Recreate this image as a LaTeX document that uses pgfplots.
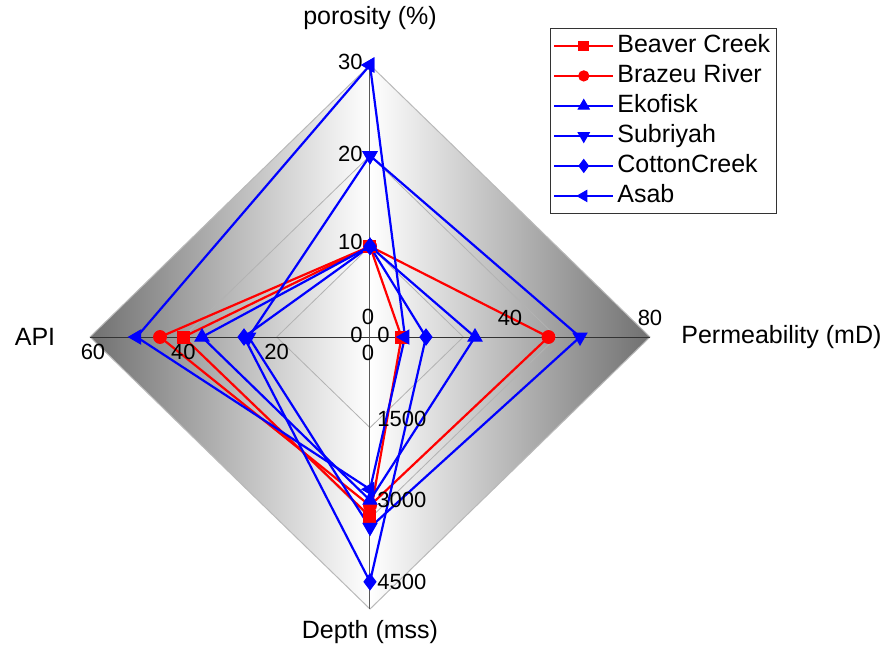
\documentclass[border=0pt]{standalone}
\usepackage{fontspec}
\setmainfont{Liberation Sans}
\usepackage{pgfplots}
\usepackage{pgfplotstable}
\pgfplotsset{compat=1.18}
\definecolor{sred}{RGB}{255,0,0}
\definecolor{sblue}{RGB}{0,0,255}

% columns: direction (dx,dy), value, full-scale of that spoke
% spokes: porosity (%) up, permeability (mD) right, depth (mss) down, API left
\pgfplotstableread{
dx dy val max
0 1 10 30
1 0 9 80
0 -1 3300 5000
-1 0 40 60
0 1 10 30
}\beaver
\pgfplotstableread{
dx dy val max
0 1 10 30
1 0 51 80
0 -1 3100 5000
-1 0 45 60
0 1 10 30
}\brazeu
\pgfplotstableread{
dx dy val max
0 1 10 30
1 0 30 80
0 -1 3000 5000
-1 0 36 60
0 1 10 30
}\ekofisk
\pgfplotstableread{
dx dy val max
0 1 20 30
1 0 60 80
0 -1 3500 5000
-1 0 26 60
0 1 20 30
}\subriyah
\pgfplotstableread{
dx dy val max
0 1 10 30
1 0 16 80
0 -1 4500 5000
-1 0 27 60
0 1 10 30
}\cotton
\pgfplotstableread{
dx dy val max
0 1 30 30
1 0 10 80
0 -1 2800 5000
-1 0 50 60
0 1 30 30
}\asab

\newcommand{\tickfont}{\fontsize{11}{13}\selectfont}
\newcommand{\titlefont}{\fontsize{12.5}{15}\selectfont}

\begin{document}
\begin{tikzpicture}
\begin{axis}[
  at={(0,0)}, anchor=origin,
  scale only axis, width=280pt, height=272pt,
  xmin=-1, xmax=1, ymin=-1, ymax=1,
  hide axis, clip=false,
  legend style={at={(0.821,1.068)}, anchor=north west, draw=black!80,
    fill=white, font=\titlefont, inner sep=1.5pt, row sep=0.5pt,
    nodes={text height=9pt, text depth=2.5pt, inner sep=1.5pt}},
  legend cell align=left,
  legend image code/.code={\draw[mark repeat=2, mark phase=2, /tikz/every mark/.append style={scale=0.8}] plot coordinates {(0pt,0pt) (14.75pt,0pt) (29.5pt,0pt)};},
  every axis plot/.append style={line width=1.1pt},
]
% background diamond with horizontal grey gradient
\addplot[forget plot, draw=gray!55, line width=0.5pt, left color=black!56, right color=black!56, middle color=white]
  coordinates {(-1,0) (0,1) (1,0) (0,-1)} -- cycle;
% grid diamonds
\addplot[forget plot, draw=gray!60, line width=0.4pt]
  coordinates {(-0.3333,0) (0,0.3333) (0.3333,0) (0,-0.3333) (-0.3333,0)};
\addplot[forget plot, draw=gray!60, line width=0.4pt]
  coordinates {(-0.6667,0) (0,0.6667) (0.6667,0) (0,-0.6667) (-0.6667,0)};
% spokes
\addplot[forget plot, draw=black!80, line width=0.5pt] coordinates {(-1,0) (1,0)};
\addplot[forget plot, draw=black!65, line width=0.5pt] coordinates {(0,-1) (0,1)};

% series
\addplot[sred, mark=square*, mark size=3pt, mark options={solid, line width=0.5pt}]
  table[x expr=\thisrow{dx}*\thisrow{val}/\thisrow{max}, y expr=\thisrow{dy}*\thisrow{val}/\thisrow{max}] {\beaver};
\addlegendentry{Beaver Creek}
\addplot[sred, mark=*, mark size=3.2pt, mark options={solid, line width=0.5pt}]
  table[x expr=\thisrow{dx}*\thisrow{val}/\thisrow{max}, y expr=\thisrow{dy}*\thisrow{val}/\thisrow{max}] {\brazeu};
\addlegendentry{Brazeu River}
\addplot[sblue, mark=triangle*, mark size=4pt, mark options={solid, line width=0.5pt}]
  table[x expr=\thisrow{dx}*\thisrow{val}/\thisrow{max}, y expr=\thisrow{dy}*\thisrow{val}/\thisrow{max}] {\ekofisk};
\addlegendentry{Ekofisk}
\addplot[sblue, mark=triangle*, mark size=4pt, mark options={solid, rotate=180, line width=0.5pt}]
  table[x expr=\thisrow{dx}*\thisrow{val}/\thisrow{max}, y expr=\thisrow{dy}*\thisrow{val}/\thisrow{max}] {\subriyah};
\addlegendentry{Subriyah}
\addplot[sblue, mark=diamond*, mark size=4pt, mark options={solid, line width=0.5pt}]
  table[x expr=\thisrow{dx}*\thisrow{val}/\thisrow{max}, y expr=\thisrow{dy}*\thisrow{val}/\thisrow{max}] {\cotton};
\addlegendentry{CottonCreek}
\addplot[sblue, mark=triangle*, mark size=4pt, mark options={solid, rotate=90, line width=0.5pt}]
  table[x expr=\thisrow{dx}*\thisrow{val}/\thisrow{max}, y expr=\thisrow{dy}*\thisrow{val}/\thisrow{max}] {\asab};
\addlegendentry{Asab}

% porosity tick labels (left of spoke)
\node[font=\tickfont, anchor=east, inner sep=0pt, xshift=-3.5pt, yshift=1pt] at (axis cs:0,0) {0};
\node[font=\tickfont, anchor=east, inner sep=0pt, xshift=-3.5pt, yshift=2pt] at (axis cs:0,0.3333) {10};
\node[font=\tickfont, anchor=east, inner sep=0pt, xshift=-3.5pt, yshift=1pt] at (axis cs:0,0.6667) {20};
\node[font=\tickfont, anchor=east, inner sep=0pt, xshift=-3.5pt, yshift=1.5pt] at (axis cs:0,1) {30};
% permeability tick labels (above spoke)
\node[font=\tickfont, inner sep=0pt, xshift=-1pt, yshift=10pt] at (axis cs:0,0) {0};
\node[font=\tickfont, inner sep=0pt, yshift=9.5pt] at (axis cs:0.5,0) {40};
\node[font=\tickfont, inner sep=0pt, yshift=9.5pt] at (axis cs:1,0) {80};
% depth tick labels (right of spoke)
\node[font=\tickfont, anchor=west, inner sep=0pt, xshift=3.5pt, yshift=1pt] at (axis cs:0,0) {0};
\node[font=\tickfont, anchor=west, inner sep=0pt, xshift=3.5pt] at (axis cs:0,-0.3) {1500};
\node[font=\tickfont, anchor=west, inner sep=0pt, xshift=3.5pt] at (axis cs:0,-0.6) {3000};
\node[font=\tickfont, anchor=west, inner sep=0pt, xshift=3.5pt] at (axis cs:0,-0.9) {4500};
% API tick labels (below spoke)
\node[font=\tickfont, inner sep=0pt, xshift=-1pt, yshift=-8pt] at (axis cs:0,0) {0};
\node[font=\tickfont, inner sep=0pt, yshift=-7.5pt] at (axis cs:-0.3333,0) {20};
\node[font=\tickfont, inner sep=0pt, yshift=-7.5pt] at (axis cs:-0.6667,0) {40};
\node[font=\tickfont, inner sep=0pt, yshift=-7.5pt, xshift=1.5pt] at (axis cs:-1,0) {60};

% spoke titles
\node[font=\titlefont, inner sep=0pt, yshift=159.5pt] at (axis cs:0,0) {porosity (\%)};
\node[font=\titlefont, inner sep=0pt, anchor=west, xshift=155.5pt] at (axis cs:0,0) {Permeability (mD)};
\node[font=\titlefont, inner sep=0pt, yshift=-147.5pt] at (axis cs:0,0) {Depth (mss)};
\node[font=\titlefont, inner sep=0pt, xshift=-167.5pt] at (axis cs:0,0) {API};
\end{axis}
\pgfresetboundingbox
\path (-185pt,-156pt) rectangle (256.5pt,168.5pt);
\end{tikzpicture}
\end{document}
